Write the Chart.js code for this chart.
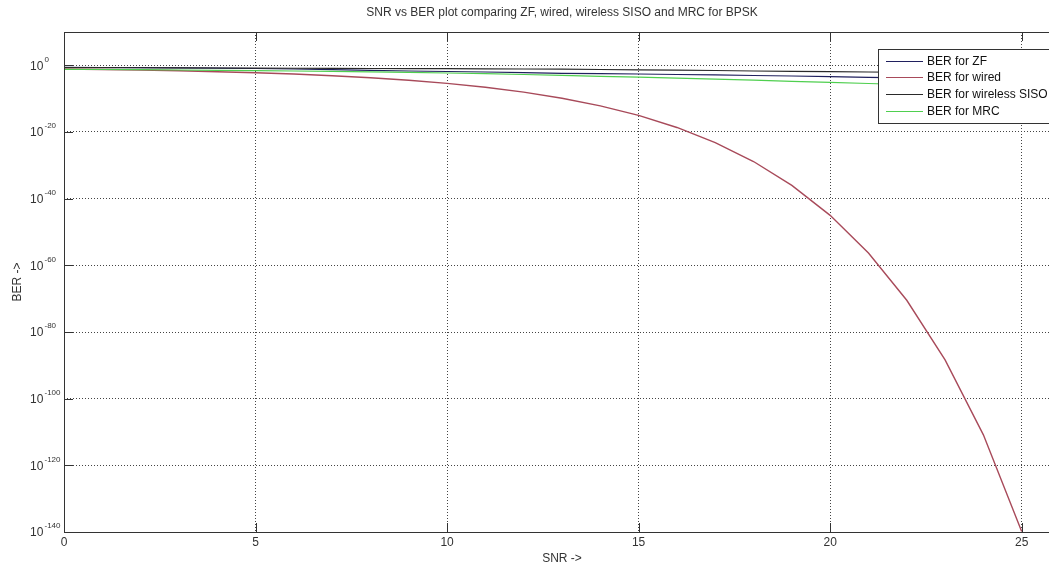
<!DOCTYPE html>
<html><head><meta charset="utf-8">
<script src="https://cdn.jsdelivr.net/npm/chart.js@4/dist/chart.umd.min.js"></script>
<style>
html,body{margin:0;padding:0;background:#fff;overflow:hidden;width:1049px;height:562px}
#wrap{position:relative;width:1124px;height:566px;overflow:hidden}
canvas{display:block}
</style></head><body><div id="wrap"><canvas id="c" width="1124" height="566"></canvas></div>
<script>
// ---- data ----
const snr = [0,1,2,3,4,5,6,7,8,9,10,11,12,13,14,15,16,17,18,19,20,21,22,23,24,25];
const berZF = [0.25,0.224,0.2,0.166,0.141,0.112,0.079,0.05,0.032,0.02,0.014,0.01,0.0063,0.004,0.0032,0.0025,0.0018,0.0013,8.9e-4,6.3e-4,4e-4,2.5e-4,1.8e-4,1.3e-4,8.9e-5,6.3e-5];
const berWired = [7.9e-2,5.6e-2,3.8e-2,2.3e-2,1.25e-2,6e-3,2.4e-3,7.7e-4,1.9e-4,3.4e-5,3.9e-6,2.6e-7,9e-9,1.3e-10,6.8e-13,9.4e-16,2.3e-19,6.8e-24,1.4e-29,1e-36,1e-45,5.2e-57,3.3e-71,4.5e-89,1.4e-111,1.5e-140];
const berSISO = [0.224,0.209,0.191,0.174,0.158,0.145,0.132,0.12,0.112,0.105,0.1,0.089,0.079,0.071,0.056,0.045,0.035,0.028,0.02,0.016,0.0126,0.01,0.0079,0.0063,0.005,0.004];
const berMRC = [0.063,0.056,0.05,0.04,0.032,0.025,0.02,0.016,0.011,0.0079,0.005,0.0032,0.0018,0.001,5e-4,2.8e-4,1.4e-4,7.1e-5,3.5e-5,1.6e-5,7.9e-6,3.5e-6,1.6e-6,7.9e-7,4e-7,2e-7];
const seriesLabels = ['BER for ZF','BER for wired','BER for wireless SISO','BER for MRC'];
const seriesColors = ['#20205e','#a84a5a','#2a2a2a','#4fcf4f'];
const xTicks = [0,5,10,15,20,25];
const yTickExponents = [0,-20,-40,-60,-80,-100,-120,-140];
const titleText = 'SNR vs BER plot comparing ZF, wired, wireless SISO and MRC for BPSK';
const xLabel = 'SNR ->';
const yLabel = 'BER ->';

const FONT = '"Liberation Sans", Arial, sans-serif';
const TXT = '#333';

function pts(ys){ return snr.map((x,i)=>({x:x,y:ys[i]})); }
const seriesData = [berZF, berWired, berSISO, berMRC];

const framePlugin = {
  id:'frameTicksLegend',
  afterDatasetsDraw(chart){
    const ctx = chart.ctx, a = chart.chartArea;
    const xs = chart.scales.x, ys = chart.scales.y;
    ctx.save();
    ctx.strokeStyle = '#333'; ctx.lineWidth = 1; ctx.setLineDash([]);
    ctx.strokeRect(Math.round(a.left)+0.5, Math.round(a.top)+0.5, Math.round(a.right-a.left), Math.round(a.bottom-a.top));
    // inside tick marks
    const TL = 9;
    ctx.beginPath();
    xs.ticks.forEach(t=>{
      const px = Math.round(xs.getPixelForValue(t.value))+0.5;
      ctx.moveTo(px, a.bottom); ctx.lineTo(px, a.bottom-TL);
      ctx.moveTo(px, a.top); ctx.lineTo(px, a.top+TL);
    });
    ys.ticks.forEach(t=>{
      const py = Math.round(ys.getPixelForValue(t.value))+0.5;
      ctx.moveTo(a.left, py); ctx.lineTo(a.left+TL, py);
      ctx.moveTo(a.right, py); ctx.lineTo(a.right-TL, py);
    });
    ctx.stroke();
    // legend box
    const lx = 878, ly = 49, lh = 74;
    ctx.fillStyle = '#fff';
    ctx.fillRect(lx, ly, 400, lh);
    ctx.strokeStyle = '#333';
    ctx.strokeRect(lx+0.5, ly+0.5, 400, lh);
    ctx.font = '12px ' + FONT;
    ctx.textBaseline = 'middle'; ctx.textAlign = 'left';
    chart.data.datasets.forEach((ds,i)=>{
      const yy = 60.7 + i*16.7;
      ctx.strokeStyle = ds.borderColor; ctx.lineWidth = 1;
      ctx.beginPath(); ctx.moveTo(886, Math.round(yy)+0.5); ctx.lineTo(923, Math.round(yy)+0.5); ctx.stroke();
      ctx.fillStyle = '#111';
      ctx.fillText(ds.label, 927, yy+0.5);
    });
    ctx.restore();
  },
  afterDraw(chart){
    const ctx = chart.ctx, ys = chart.scales.y;
    ctx.save();
    ctx.fillStyle = TXT; ctx.textAlign = 'left'; ctx.textBaseline = 'middle';
    yTickExponents.forEach(e=>{
      const py = ys.getPixelForValue(Math.pow(10,e));
      ctx.font = '12px ' + FONT;
      ctx.fillText('10', 30, py+1);
      ctx.font = '8px ' + FONT;
      ctx.fillText(e===0 ? '0' : '-' + Math.abs(e), 44.5, py-6);
    });
    ctx.restore();
  }
};

new Chart(document.getElementById('c'), {
  type:'line',
  data:{
    datasets: seriesData.map((d,i)=>({
      label: seriesLabels[i], data: pts(d), borderColor: seriesColors[i], backgroundColor: seriesColors[i],
      borderWidth: i===1 ? 1.4 : 1.2, pointRadius:0, tension:0, fill:false, order: 4-i
    }))
  },
  options:{
    responsive:false, animation:false, devicePixelRatio:1,
    layout:{padding:{left:0,right:64,top:0,bottom:0}},
    plugins:{
      legend:{display:false},
      tooltip:{enabled:false},
      title:{display:true, text:titleText, fullSize:false, color:TXT, font:{family:FONT,size:12,weight:'normal'}, padding:{top:5,bottom:12.6}}
    },
    scales:{
      x:{type:'linear', min:0, max:26,
        afterBuildTicks(s){ s.ticks = xTicks.map(v=>({value:v})); },
        afterFit(s){ s.height = 34; },
        ticks:{color:TXT, font:{family:FONT,size:12}, padding:3, maxRotation:0, autoSkip:false},
        grid:{color:'#444', lineWidth:1, drawTicks:false},
        border:{display:false, dash:[1,2]},
        title:{display:true, text:xLabel, color:TXT, font:{family:FONT,size:12}, padding:{top:0,bottom:0}}
      },
      y:{type:'logarithmic', min:1e-140, max:1e10,
        afterBuildTicks(s){ s.ticks = yTickExponents.map(e=>({value:Math.pow(10,e)})); },
        afterFit(s){ s.width = 64; },
        ticks:{display:false},
        grid:{color:'#444', lineWidth:1, drawTicks:false},
        border:{display:false, dash:[1,2]},
        title:{display:true, text:yLabel, color:TXT, font:{family:FONT,size:12}, padding:{top:10,bottom:0}}
      }
    }
  },
  plugins:[framePlugin]
});
</script>
</body></html>
